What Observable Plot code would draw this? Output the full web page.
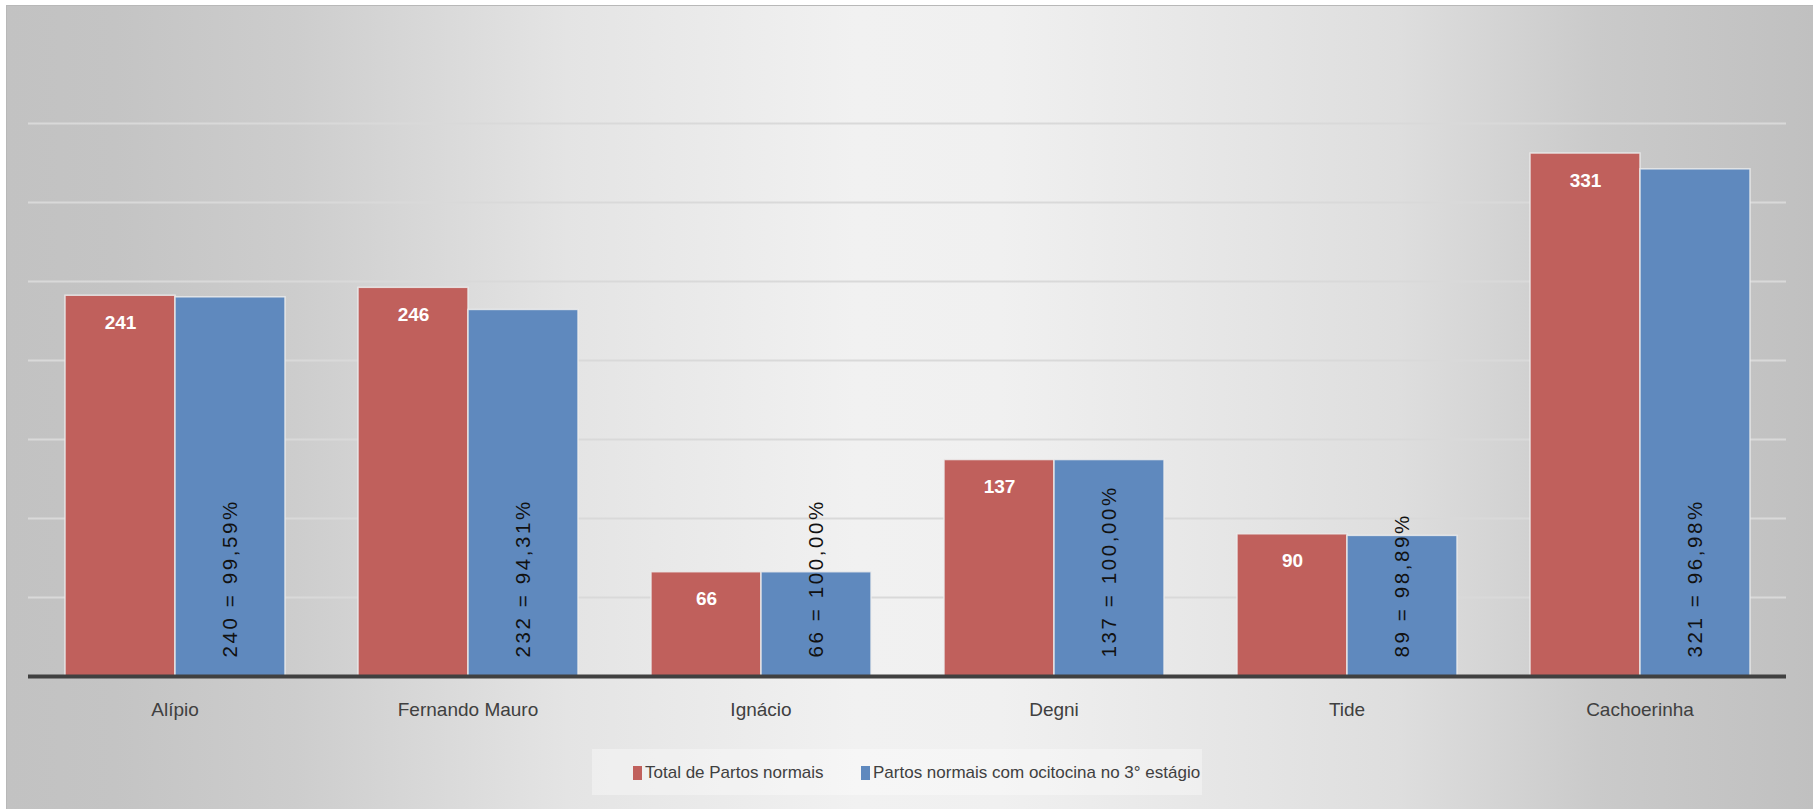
<!DOCTYPE html>
<html>
<head>
<meta charset="utf-8">
<script src="https://cdn.jsdelivr.net/npm/d3@7"></script>
<script src="https://cdn.jsdelivr.net/npm/@observablehq/plot@0.6"></script>
<style>
  html, body { margin: 0; padding: 0; background: #ffffff; width: 1813px; height: 809px; overflow: hidden; }
  #bg {
    position: absolute; left: 6px; top: 5px; width: 1807px; height: 810px;
    border-top: 1px solid #b8b8b8; border-left: 1px solid #b8b8b8;
    background: linear-gradient(to right, #c2c2c2 0%, #c4c4c4 6%, #cdcdcd 16%, #e4e4e4 31%, #f1f1f1 47%, #f0f0f0 55%, #dedede 77%, #cacaca 88%, #c0c0c0 100%);
  }
  #plot { position: absolute; left: 0; top: 0; }
  #legend {
    position: absolute; left: 592px; top: 749px; width: 610px; height: 46px;
    background: rgba(255,255,255,0.35);
    font-family: "Liberation Sans Narrow", "Liberation Sans", sans-serif; font-size: 17px; color: #404040;
  }
  .item { position: absolute; top: 14px; display: flex; align-items: center; white-space: nowrap; }
  .sw { display: inline-block; width: 9px; height: 14px; margin-right: 3px; }
</style>
</head>
<body>
<div id="bg"></div>
<div id="plot"></div>
<div id="legend"></div>
<script>
const categories = ["Alípio", "Fernando Mauro", "Ignácio", "Degni", "Tide", "Cachoerinha"];
const series = ["Total de Partos normais", "Partos normais com ocitocina no 3° estágio"];
const totalPartos = [241, 246, 66, 137, 90, 331];
const comOcitocina = [240, 232, 66, 137, 89, 321];
const percentLabels = ["99,59%", "94,31%", "100,00%", "100,00%", "98,89%", "96,98%"];
const gridValues = [50, 100, 150, 200, 250, 300, 350];
const seriesColors = ["#c0605c", "#5f89be"];

const totalRows = categories.map((c, i) => ({cat: c, serie: series[0], value: totalPartos[i]}));
const blueRows = categories.map((c, i) => ({cat: c, serie: series[1], value: comOcitocina[i], label: `${comOcitocina[i]} = ${percentLabels[i]}`}));
const rows = totalRows.concat(blueRows);

const chart = Plot.plot({
  width: 1813,
  height: 730,
  marginLeft: 27,
  marginRight: 27,
  marginTop: 44,
  marginBottom: 54,
  style: {background: "transparent", overflow: "visible", fontFamily: "'Liberation Sans Narrow', 'Liberation Sans', sans-serif", fontSize: "19px", color: "#404040"},
  fx: {domain: categories, padding: 0, label: null, axis: "bottom", tickSize: 0, tickPadding: 26},
  x: {domain: series, paddingInner: 0, paddingOuter: 0.32, axis: null},
  y: {domain: [0, 400], axis: null},
  color: {domain: series, range: seriesColors},
  marks: [
    Plot.ruleY(gridValues, {stroke: "#d9d9d9", strokeWidth: 1.8}),
    Plot.barY(rows, {fx: "cat", x: "serie", y: "value", fill: "serie", stroke: "#ececec", strokeWidth: 1.5, strokeOpacity: 0.85}),
    Plot.text(totalRows, {fx: "cat", x: "serie", y: "value", text: d => String(d.value), dy: 27, fill: "white", fontWeight: "bold", fontSize: 19, fontFamily: "'Liberation Sans Narrow', 'Liberation Sans', sans-serif"}),
    Plot.text(blueRows, {fx: "cat", x: "serie", y: 0, text: "label", rotate: -90, textAnchor: "start", lineAnchor: "middle", dy: -19, fill: "#111111", fontSize: 20.5, fontFamily: "'Liberation Sans', Arial, sans-serif"}),
    Plot.ruleY([0], {stroke: "#404040", strokeWidth: 4})
  ]
});
chart.querySelectorAll("text").forEach(t => {
  const tr = t.getAttribute("transform") || "";
  if (tr.includes("rotate")) t.style.letterSpacing = "2.6px";
});
document.getElementById("plot").appendChild(chart);

const legend = document.getElementById("legend");
const lefts = [41, 269];
series.forEach((s, i) => {
  const it = document.createElement("div");
  it.className = "item";
  it.style.left = lefts[i] + "px";
  const sw = document.createElement("span");
  sw.className = "sw";
  sw.style.background = seriesColors[i];
  it.appendChild(sw);
  it.appendChild(document.createTextNode(s));
  legend.appendChild(it);
});
</script>
</body>
</html>
